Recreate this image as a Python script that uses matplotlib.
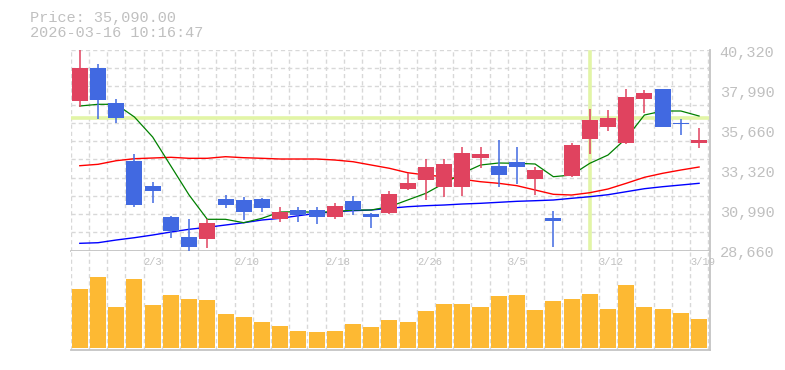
import matplotlib
matplotlib.use("Agg")
import matplotlib.pyplot as plt
import matplotlib.transforms as mtransforms
import numpy as np

plt.rcParams['font.family'] = ['Liberation Mono', 'DejaVu Sans Mono']
plt.rcParams['lines.scale_dashes'] = False

# ---------------- data ----------------
opens  = [37374, 39292, 37258, 33888, 32436, 30635, 29473, 29357, 31681, 31605,
          31663, 30484, 31024, 31024, 30635, 31547, 30792, 30867, 32262, 32784,
          32378, 32378, 34063, 33580, 33813, 32843, 30542, 32999, 35167, 35864,
          34934, 37491, 38054, 36096, 34934]
highs  = [40300, 39507, 37473, 34278, 32633, 30675, 30501, 30501, 31895, 31797,
          31739, 31216, 31216, 31216, 31448, 31837, 30867, 32145, 33156, 33970,
          34005, 34702, 34702, 35091, 34702, 33540, 30966, 34899, 36892, 36834,
          38054, 37996, 38054, 36311, 35788]
lows   = [37026, 36329, 36061, 31216, 31448, 29415, 28670, 28816, 31158, 30443,
          30925, 30344, 30344, 30228, 30519, 30751, 29996, 30792, 32186, 31605,
          31797, 31855, 33464, 32343, 32535, 31913, 28857, 32924, 34278, 35631,
          34859, 36642, 35864, 35399, 34644]
closes = [39292, 37415, 36387, 31314, 32145, 29821, 28892, 30286, 31332, 30925,
          31158, 30925, 30751, 30635, 31256, 31024, 30635, 31954, 32593, 33522,
          33697, 34336, 34278, 33075, 33540, 33348, 30402, 34800, 36253, 36369,
          37589, 37822, 35864, 36038, 35090]

ma_short = [37066, 37165, 37165, 36427, 35265, 33580, 31895, 30484, 30484, 30286,
            30542, 30908, 30925, 30890, 30925, 31024, 31024, 31216, 31605, 31994,
            32575, 33156, 33638, 33755, 33737, 33697, 32959, 33057, 33737, 34219,
            35190, 36543, 36776, 36776, 36485]
ma_mid   = [33598, 33679, 33888, 34005, 34045, 34086, 34028, 34028, 34121, 34063,
            34028, 33987, 33987, 33987, 33929, 33830, 33638, 33447, 33191, 33057,
            32959, 32808, 32668, 32575, 32436, 32186, 31936, 31895, 32029, 32244,
            32575, 32924, 33156, 33348, 33522]
ma_long  = [29089, 29124, 29281, 29415, 29571, 29746, 29903, 30019, 30152, 30286,
            30443, 30542, 30693, 30832, 30925, 30983, 31024, 31123, 31216, 31274,
            31314, 31373, 31413, 31471, 31529, 31564, 31605, 31704, 31797, 31913,
            32087, 32262, 32378, 32476, 32575]

volumes = [59, 71, 41, 69, 43, 53, 49, 48, 34, 31,
           26, 22, 17, 16, 17, 24, 21, 28, 26, 37,
           44, 44, 41, 52, 53, 38, 47, 49, 54, 39,
           63, 41, 39, 35, 29]

date_labels = ["2/3", "2/10", "2/18", "2/26", "3/5", "3/12", "3/19"]
date_label_idx = [4, 9, 14, 19, 24, 29, 34]

price_ticks = [28660, 30990, 33320, 35660, 37990, 40320]
price_tick_labels = ["28,660", "30,990", "33,320", "35,660", "37,990", "40,320"]

cross_idx = 28
cross_price = 36380

title_line1 = "Price: 35,090.00"
title_line2 = "2026-03-16 10:16:47"

# ---------------- style ----------------
RED = '#e0435f'
BLUE = '#4169e1'
VOL = '#fdb933'
GRID = '#d8d8d8'
SPINE = '#c4c4c4'
TXT = '#c0c0c0'
CROSS = '#e2f5a6'

W, H = 785, 370
fig = plt.figure(figsize=(W / 100, H / 100), dpi=100)
fig.patch.set_facecolor('white')

left_px, right_px = 70.7, 710.0
top_px, mid_px, bot_px = 50.0, 250.7, 350.0

ax = fig.add_axes([left_px / W, 1 - mid_px / H, (right_px - left_px) / W, (mid_px - top_px) / H])
ax2 = fig.add_axes([left_px / W, 1 - bot_px / H, (right_px - left_px) / W, (bot_px - mid_px) / H])

n = len(closes)
x = np.arange(n)
xlim = (-0.5, 34.6)

dash = (0, (3.0, 2.2))

# ---- price panel ----
ymin, ymax = price_ticks[0], price_ticks[-1]
ax.set_xlim(*xlim)
ax.set_ylim(ymin, ymax)

# grid
for b in np.arange(-0.5, n, 1.0):
    ax.axvline(b, color=GRID, lw=1.0, linestyle=dash, zorder=0)
step = (ymax - ymin) / 11
for k in range(12):
    ax.axhline(ymin + k * step, color=GRID, lw=1.0, linestyle=dash, zorder=0)

# crosshair
ax.axhline(cross_price, color=CROSS, lw=2.6, zorder=1)
ax.axvline(cross_idx, color=CROSS, lw=2.6, zorder=1, ymin=0.01, ymax=0.99)

# moving averages
ax.plot(x, ma_mid, color='#ff0000', lw=1.0, zorder=2)
ax.plot(x, ma_long, color='#0000ff', lw=1.0, zorder=2)
ax.plot(x, ma_short, color='#008000', lw=0.9, zorder=2)

# candles
colors = [RED if c >= o else BLUE for o, c in zip(opens, closes)]
ax.vlines(x, lows, highs, colors=colors, lw=1.1, zorder=3)
bottoms = [min(o, c) for o, c in zip(opens, closes)]
heights = [max(abs(c - o), 40) for o, c in zip(opens, closes)]
ax.bar(x, heights, bottom=bottoms, width=0.88, color=colors, linewidth=0, zorder=4)

ax.yaxis.tick_right()
ax.set_yticks(price_ticks)
ax.set_yticklabels(price_tick_labels)
ax.tick_params(axis='y', length=0, pad=7, labelsize=11, labelcolor=TXT)
ax.set_xticks([])
for lab in ax.get_yticklabels():
    lab.set_verticalalignment('center')
    lab.set_transform(lab.get_transform() + mtransforms.ScaledTranslation(0, -2.5 / 100, fig.dpi_scale_trans))
for s in ['top', 'left']:
    ax.spines[s].set_visible(False)
for s in ['bottom', 'right']:
    ax.spines[s].set_color(SPINE)
    ax.spines[s].set_linewidth(1.3)

# ---- volume panel ----
ax2.set_xlim(*xlim)
ax2.set_ylim(-2, 97.3)
for b in np.arange(-0.5, n, 1.0):
    ax2.axvline(b, color=GRID, lw=1.0, linestyle=dash, zorder=0)
ax2.bar(x, volumes, width=0.88, color=VOL, linewidth=0, zorder=2)
ax2.set_xticks([])
ax2.set_yticks([])
for s in ['top', 'left']:
    ax2.spines[s].set_visible(False)
for s in ['bottom', 'right']:
    ax2.spines[s].set_color(SPINE)
    ax2.spines[s].set_linewidth(1.3)

trans = mtransforms.blended_transform_factory(ax2.transData, ax2.transAxes)
for i, lab in zip(date_label_idx, date_labels):
    ax2.text(i - 0.5, 0.889, lab, transform=trans, ha='left', va='center',
             fontsize=7.5, color=TXT, clip_on=False, zorder=5)

# ---- header ----
fig.text(30 / W, 1 - 18 / H, title_line1, ha='left', va='center', fontsize=11, color=TXT)
fig.text(30 / W, 1 - 33 / H, title_line2, ha='left', va='center', fontsize=11, color=TXT)

fig.savefig('out.png', dpi=100, facecolor='white')
